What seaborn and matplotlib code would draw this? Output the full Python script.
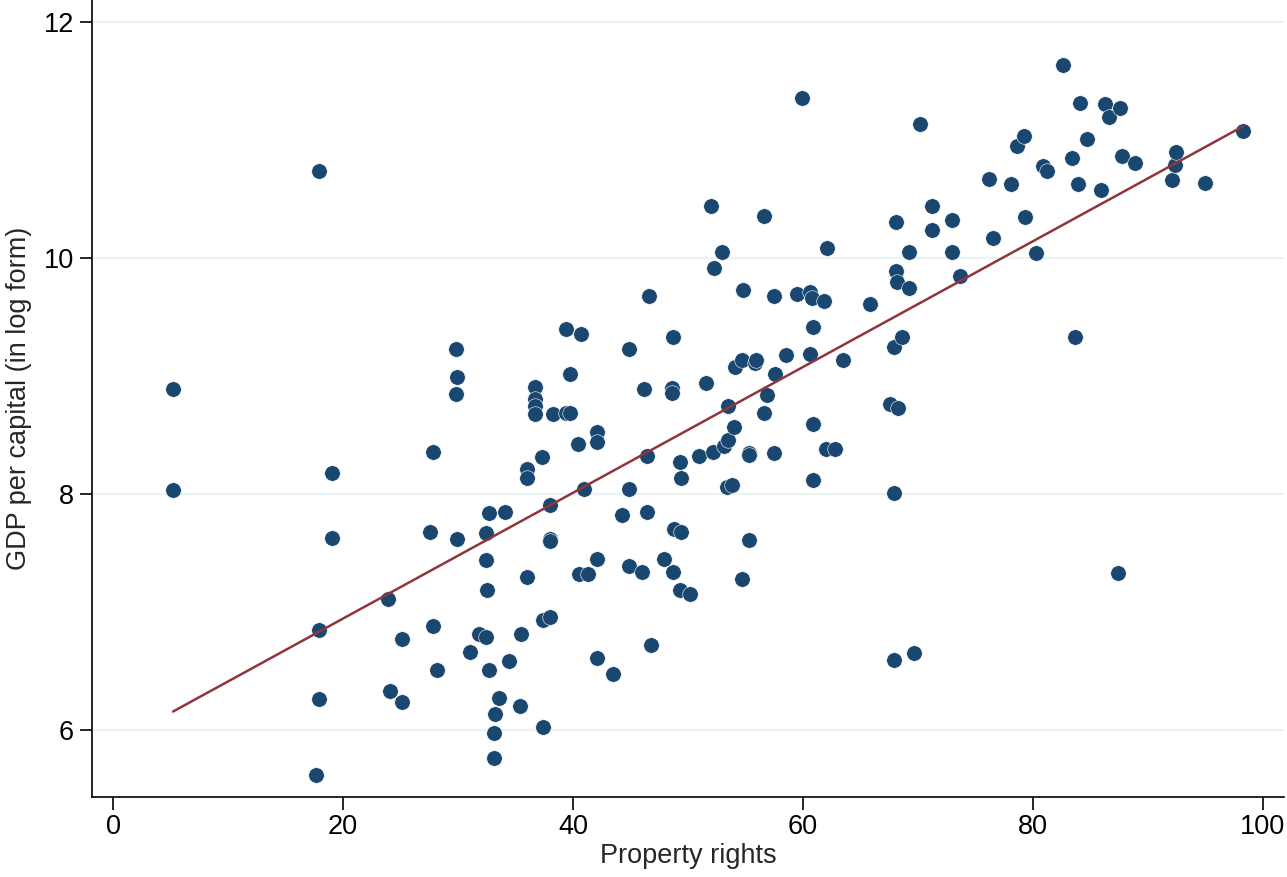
import numpy as np
import seaborn as sns
import matplotlib
matplotlib.use("Agg")
import matplotlib.pyplot as plt

# values
property_rights = [
    5.2, 5.2, 17.9, 19.0, 19.0, 17.9, 17.9, 17.6, 23.9, 24.1,
    25.1, 25.1, 27.8, 27.6, 27.8, 28.2, 29.8, 29.9, 29.8, 29.9,
    31.0, 31.8, 32.4, 32.7, 32.4, 32.4, 32.5, 32.7, 33.2, 33.1,
    33.1, 33.6, 34.1, 34.4, 35.4, 35.5, 36.0, 36.0, 36.0, 36.7,
    36.7, 36.7, 36.7, 37.3, 37.4, 37.4, 38.0, 38.0, 38.0, 38.0,
    38.3, 39.4, 39.7, 39.4, 40.7, 39.7, 40.4, 41.0, 40.5, 41.3,
    42.1, 42.1, 42.1, 42.1, 43.5, 44.3, 44.9, 44.9, 44.9, 46.0,
    46.2, 46.4, 46.4, 46.6, 46.8, 47.9, 48.6, 48.6, 48.7, 48.7,
    48.8, 49.4, 49.3, 49.4, 49.3, 50.2, 51.0, 51.6, 52.0, 52.2,
    52.3, 53.0, 53.1, 53.5, 53.4, 53.8, 53.5, 54.0, 54.1, 54.7,
    54.7, 54.8, 55.3, 55.3, 55.3, 55.8, 55.9, 56.6, 56.6, 56.9,
    57.5, 57.5, 57.6, 58.5, 59.5, 59.9, 60.6, 60.8, 60.6, 60.9,
    60.9, 60.9, 61.8, 62.1, 62.0, 62.8, 63.5, 65.8, 67.6, 68.3,
    67.9, 68.6, 67.9, 67.9, 69.7, 68.1, 68.1, 68.2, 69.2, 69.2,
    70.2, 71.2, 71.2, 73.0, 73.0, 73.7, 76.2, 76.5, 78.1, 78.6,
    79.2, 79.3, 80.3, 80.9, 81.2, 82.6, 83.4, 83.7, 83.9, 84.1,
    84.7, 85.9, 86.3, 86.6, 87.6, 87.4, 87.8, 88.9, 92.1, 92.4,
    92.5, 95.0, 98.3,
]
log_gdp = [
    8.89, 8.03, 10.74, 8.18, 7.63, 6.85, 6.26, 5.62, 7.11, 6.33,
    6.77, 6.24, 8.36, 7.68, 6.88, 6.51, 9.23, 8.99, 8.85, 7.62,
    6.66, 6.81, 6.79, 7.84, 7.67, 7.44, 7.19, 6.51, 6.13, 5.97,
    5.76, 6.27, 7.85, 6.58, 6.20, 6.81, 8.21, 8.14, 7.30, 8.91,
    8.81, 8.75, 8.68, 8.31, 6.93, 6.02, 6.96, 7.91, 7.62, 7.60,
    8.68, 8.69, 8.69, 9.40, 9.36, 9.02, 8.42, 8.04, 7.32, 7.32,
    8.53, 8.44, 7.45, 6.61, 6.47, 7.82, 9.23, 8.04, 7.39, 7.34,
    8.89, 8.32, 7.85, 9.68, 6.72, 7.45, 8.90, 8.86, 9.33, 7.34,
    7.70, 7.68, 8.27, 8.14, 7.19, 7.15, 8.32, 8.94, 10.44, 8.36,
    9.92, 10.05, 8.41, 8.46, 8.06, 8.08, 8.75, 8.57, 9.08, 9.14,
    7.28, 9.73, 8.35, 8.33, 7.61, 9.11, 9.14, 10.36, 8.69, 8.84,
    9.68, 8.35, 9.02, 9.18, 9.70, 11.36, 9.71, 9.66, 9.19, 9.42,
    8.59, 8.12, 9.64, 10.09, 8.38, 8.38, 9.14, 9.61, 8.76, 8.73,
    9.25, 9.33, 8.01, 6.59, 6.65, 10.31, 9.89, 9.80, 9.75, 10.05,
    11.14, 10.44, 10.24, 10.32, 10.05, 9.85, 10.67, 10.17, 10.63, 10.95,
    11.04, 10.35, 10.04, 10.78, 10.74, 11.64, 10.85, 9.33, 10.63, 11.32,
    11.01, 10.58, 11.31, 11.20, 11.27, 7.33, 10.87, 10.81, 10.66, 10.79,
    10.90, 10.64, 11.08,
]

x_ticks = [0, 20, 40, 60, 80, 100]
y_ticks = [6, 8, 10, 12]

sns.set_style("white")
plt.rcParams['font.family'] = ['Liberation Sans', 'DejaVu Sans']

fig = plt.figure(figsize=(12.87, 8.77), dpi=100)
ax = fig.add_axes([0.0715, 0.0912, 0.9265, 0.9088])

sns.scatterplot(x=property_rights, y=log_gdp, ax=ax, s=125, color='#1a476f',
                edgecolor='white', linewidth=0.4, zorder=3)
# linear fit over the observed range, like Stata's lfit
sns.regplot(x=property_rights, y=log_gdp, ax=ax, scatter=False, ci=None,
            truncate=True, line_kws={'color': '#90353b', 'linewidth': 1.8, 'zorder': 4})

ax.set_xlim(-1.85, 101.9)
ax.set_ylim(5.43, 12.19)
ax.set_xticks(x_ticks)
ax.set_yticks(y_ticks)
ax.yaxis.grid(True, color='#eaf2f3', linewidth=1.6)
ax.xaxis.grid(False)
ax.set_axisbelow(True)

for side in ['top', 'right']:
    ax.spines[side].set_visible(False)
for side in ['left', 'bottom']:
    ax.spines[side].set_color('black')
    ax.spines[side].set_linewidth(1.2)

ax.tick_params(axis='both', bottom=True, left=True, direction='out', length=9,
               width=1.2, color='black', labelsize=19.5, labelcolor='black')
ax.tick_params(axis='x', pad=3.5)
ax.tick_params(axis='y', pad=4)

ax.set_xlabel('Property rights', fontsize=19.5, labelpad=2)
ax.set_ylabel('GDP per capital (in log form)', fontsize=19.5, labelpad=8)

fig.savefig('out.png', dpi=100)
